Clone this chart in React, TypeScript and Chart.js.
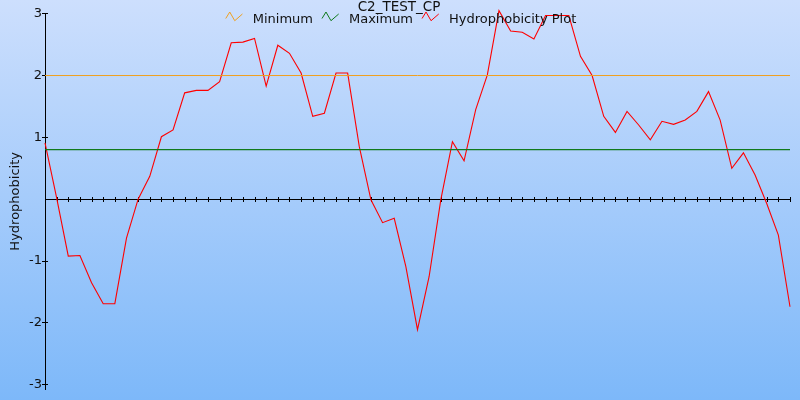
import React, { useEffect, useRef } from 'react';
import { Chart, registerables } from 'chart.js';

Chart.register(...registerables);

const chartTitle = 'C2_TEST_CP';
const yAxisTitle = 'Hydrophobicity';
const seriesNames = ['Minimum', 'Maximum', 'Hydrophobicity Plot'];
const seriesColors = ['#f0a020', '#107a1c', '#ff0000'];
const minimumValue = 2.0;
const maximumValue = 0.8;
const yTickValues = [-3, -2, -1, 1, 2, 3];
const hydrophobicity = [
  0.91, 0.02, -0.92, -0.91, -1.35, -1.69, -1.69, -0.63, 0.0, 0.37,
  1.01, 1.12, 1.72, 1.76, 1.76, 1.9, 2.53, 2.54, 2.6, 1.83,
  2.49, 2.36, 2.04, 1.34, 1.39, 2.04, 2.04, 0.85, -0.01, -0.38,
  -0.31, -1.09, -2.11, -1.25, -0.01, 0.93, 0.62, 1.45, 2.01, 3.05,
  2.72, 2.7, 2.59, 2.97, 2.97, 2.97, 2.31, 2.0, 1.34, 1.08,
  1.42, 1.2, 0.96, 1.26, 1.21, 1.28, 1.42, 1.74, 1.28, 0.5,
  0.75, 0.39, -0.07, -0.58, -1.74,
];
const positions = hydrophobicity.map((_, i) => i + 1);

const FONT = 'DejaVu Sans';

const backgroundPlugin = {
  id: 'bgGradient',
  beforeDraw(chart: any) {
    const { ctx, width, height } = chart;
    const g = ctx.createLinearGradient(0, 0, 0, height);
    g.addColorStop(0, '#cddffd');
    g.addColorStop(1, '#7db8f9');
    ctx.save();
    ctx.fillStyle = g;
    ctx.fillRect(0, 0, width, height);
    ctx.restore();
  },
};

const axesPlugin = {
  id: 'zeroAxis',
  beforeDatasetsDraw(chart: any) {
    const { ctx, chartArea, scales } = chart;
    const x = scales.x;
    const y = scales.y;
    const y0 = Math.floor(y.getPixelForValue(0)) + 0.5;
    ctx.save();
    ctx.strokeStyle = '#000';
    ctx.lineWidth = 1;
    ctx.beginPath();
    ctx.moveTo(chartArea.left, y0);
    ctx.lineTo(chartArea.right, y0);
    positions.forEach((p) => {
      const px = Math.round(x.getPixelForValue(p)) + 0.5;
      ctx.moveTo(px, y0 - 2.5);
      ctx.lineTo(px, y0 + 2.5);
    });
    yTickValues.forEach((v) => {
      const py = Math.floor(y.getPixelForValue(v)) + 0.5;
      ctx.moveTo(chartArea.left, py);
      ctx.lineTo(chartArea.left + 3, py);
    });
    ctx.stroke();
    ctx.restore();
  },
};

const titleLegendPlugin = {
  id: 'titleLegend',
  afterDraw(chart: any) {
    const { ctx } = chart;
    ctx.save();
    ctx.font = `13.5px "${FONT}"`;
    ctx.fillStyle = '#111';
    ctx.textAlign = 'center';
    ctx.textBaseline = 'alphabetic';
    ctx.fillText(chartTitle, 399, 11);

    ctx.font = `13px "${FONT}"`;
    const iconW = 17;
    const gap = 10;
    const itemGap = 9;
    const widths = seriesNames.map((n) => iconW + gap + ctx.measureText(n).width);
    const total = widths.reduce((a, b) => a + b, 0) + itemGap * (seriesNames.length - 1);
    let x0 = 401 - total / 2;
    const cy = 17;
    ctx.textAlign = 'left';
    seriesNames.forEach((name, i) => {
      ctx.strokeStyle = seriesColors[i];
      ctx.lineWidth = 1;
      ctx.beginPath();
      ctx.moveTo(x0, cy + 1.5);
      ctx.lineTo(x0 + 4, cy - 5);
      ctx.lineTo(x0 + 9, cy + 3.7);
      ctx.lineTo(x0 + 16.7, cy - 3);
      ctx.stroke();
      ctx.fillStyle = '#111';
      ctx.fillText(name, x0 + iconW + gap, 23);
      x0 += widths[i] + itemGap;
    });
    ctx.restore();
  },
};

export default function App() {
  const ref = useRef<HTMLCanvasElement | null>(null);

  useEffect(() => {
    document.body.style.margin = '0';
    if (!ref.current) return;
    Chart.defaults.font.family = FONT;
    const first = positions[0];
    const last = positions[positions.length - 1];
    const chart = new Chart(ref.current, {
      type: 'line',
      data: {
        datasets: [
          {
            label: seriesNames[0],
            data: [
              { x: first, y: minimumValue },
              { x: last, y: minimumValue },
            ],
            borderColor: seriesColors[0],
            borderWidth: 1,
            pointRadius: 0,
          },
          {
            label: seriesNames[1],
            data: [
              { x: first, y: maximumValue },
              { x: last, y: maximumValue },
            ],
            borderColor: seriesColors[1],
            borderWidth: 1.2,
            pointRadius: 0,
          },
          {
            label: seriesNames[2],
            data: hydrophobicity.map((v, i) => ({ x: positions[i], y: v })),
            borderColor: seriesColors[2],
            borderWidth: 1.1,
            pointRadius: 0,
            clip: false,
          } as any,
        ],
      },
      options: {
        animation: false,
        responsive: false,
        events: [],
        layout: { padding: { top: 13.7, right: 10, bottom: 11, left: 0 } },
        plugins: {
          legend: { display: false },
          title: { display: false },
          tooltip: { enabled: false },
        },
        scales: {
          x: {
            type: 'linear',
            min: first,
            max: last,
            display: false,
          },
          y: {
            type: 'linear',
            min: -3.07,
            max: 3,
            afterBuildTicks: (s: any) => {
              s.ticks = yTickValues.map((v) => ({ value: v }));
            },
            afterFit: (s: any) => {
              s.width = 45;
            },
            ticks: {
              font: { family: FONT, size: 13 },
              color: '#111',
              padding: 0,
            },
            grid: {
              drawOnChartArea: false,
              drawTicks: true,
              tickLength: 3,
              color: '#000',
            },
            border: { display: true, color: '#000', width: 1 },
            title: {
              display: true,
              text: yAxisTitle,
              font: { family: FONT, size: 13 },
              color: '#111',
              padding: { top: 8, bottom: 0 },
            },
          },
        },
      },
      plugins: [backgroundPlugin, axesPlugin, titleLegendPlugin],
    });
    return () => chart.destroy();
  }, []);

  return (
    <canvas
      ref={ref}
      width={800}
      height={400}
      style={{ display: 'block', width: 800, height: 400 }}
    />
  );
}
